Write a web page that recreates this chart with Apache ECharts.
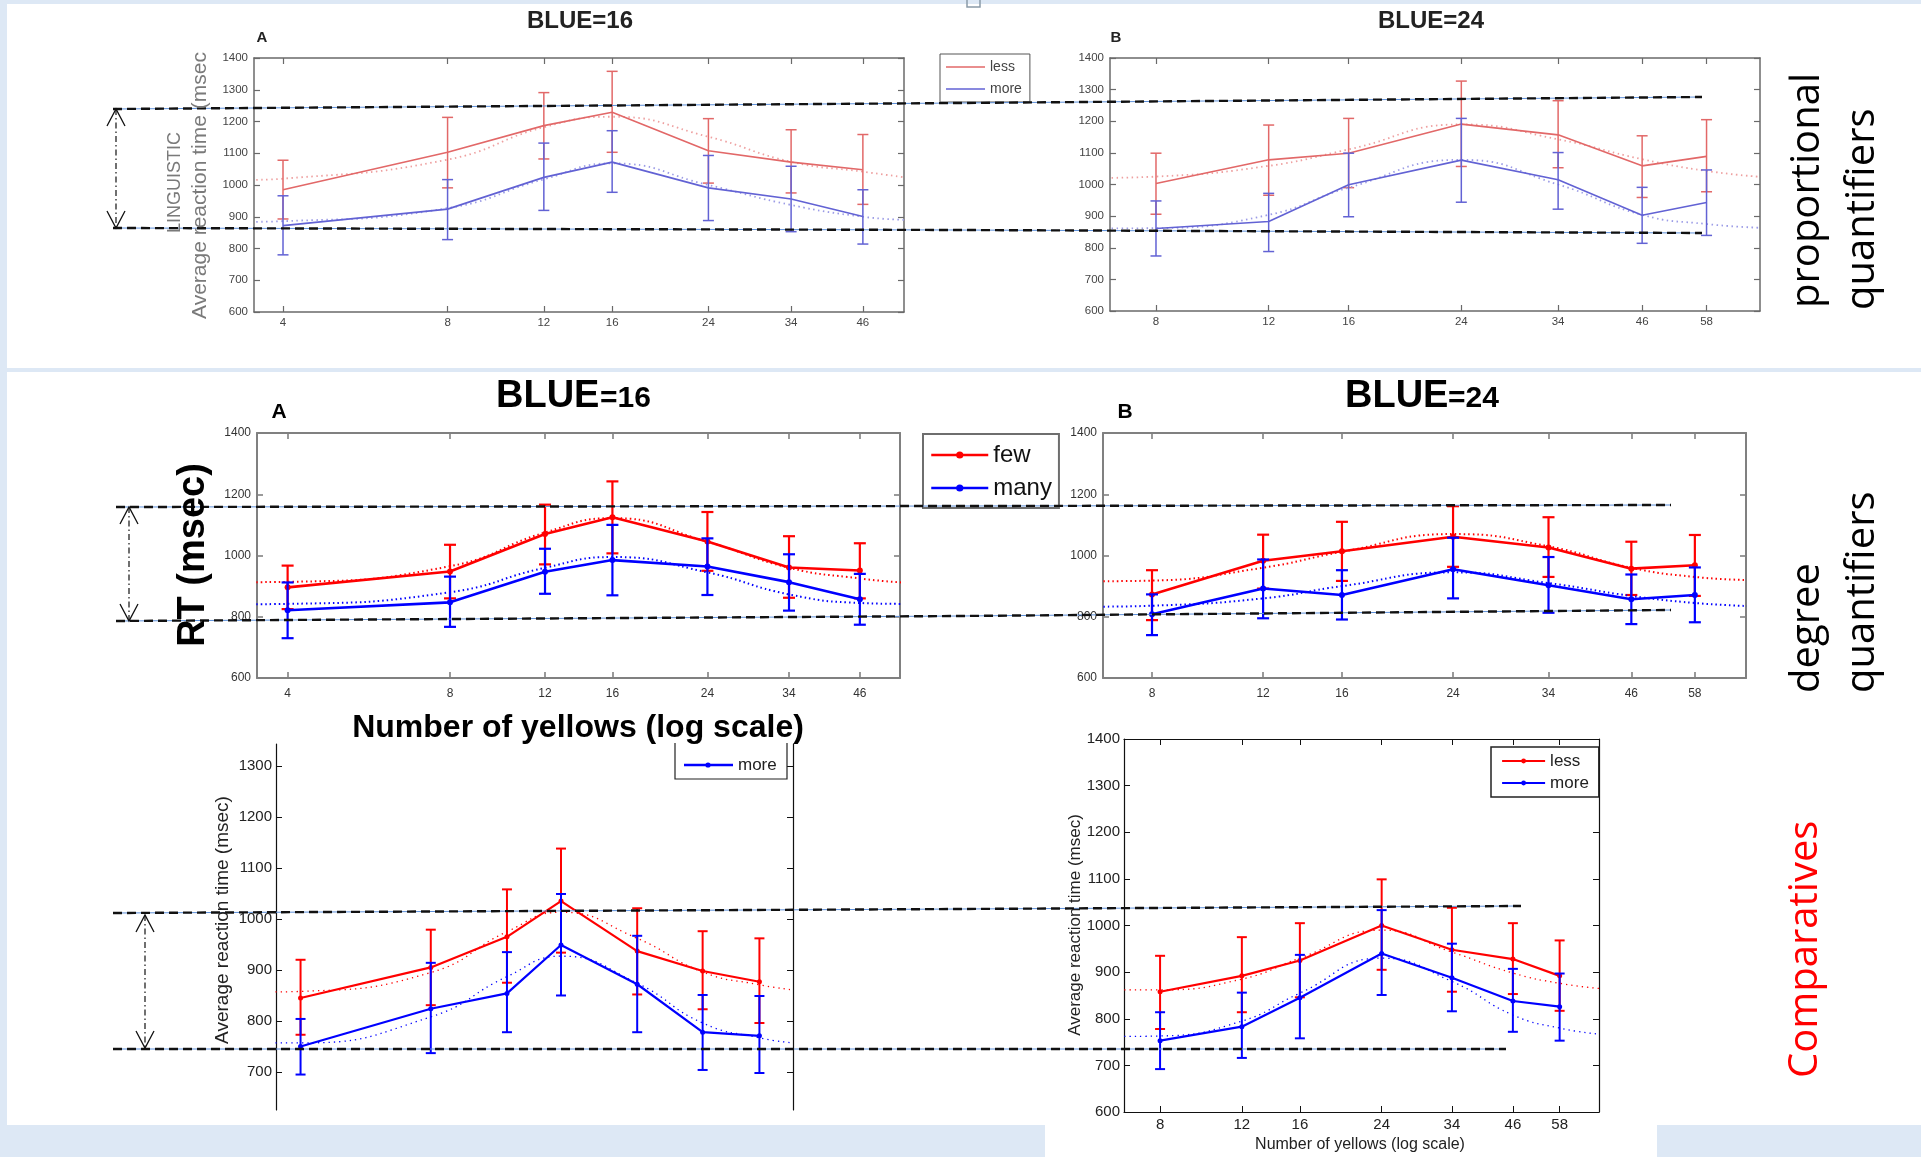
<!DOCTYPE html>
<html><head><meta charset="utf-8">
<script src="https://cdn.jsdelivr.net/npm/echarts@6/dist/echarts.min.js"></script>
<style>html,body{margin:0;padding:0;background:#dde8f5;overflow:hidden}#c{width:1921px;height:1157px}</style>
</head><body><div id="c"></div><script>
// ---------------- data ----------------
const X_BLUE16 = [4, 8, 12, 16, 24, 34, 46];
const X_BLUE24 = [8, 12, 16, 24, 34, 46, 58];
const FIT_X_BLUE16 = [3.5, 4, 8, 12, 16, 24, 34, 46, 55];
const FIT_X_BLUE24 = [6.7, 8, 12, 16, 24, 34, 46, 58, 70.5];
const Y_TICKS_COMP16 = [700, 800, 900, 1000, 1100, 1200, 1300];

// proportional quantifiers, BLUE=16
const PROP16_LESS    = [985, 1103, 1187, 1229, 1108, 1072, 1048];
const PROP16_LESS_HI = [1078, 1213, 1291, 1358, 1209, 1174, 1159];
const PROP16_LESS_LO = [893, 991, 1082, 1103, 1006, 975, 939];
const PROP16_MORE    = [872, 924, 1024, 1072, 991, 956, 901];
const PROP16_MORE_HI = [966, 1017, 1132, 1171, 1093, 1059, 985];
const PROP16_MORE_LO = [780, 828, 920, 977, 888, 853, 814];
const PROP16_LESS_FIT = [1016, 1020, 1080, 1182, 1215, 1152, 1073, 1042, 1024];
const PROP16_MORE_FIT = [884, 886, 927, 1018, 1068, 1000, 937, 900, 890];

// proportional quantifiers, BLUE=24
const PROP24_LESS    = [1003, 1078, 1099, 1191, 1157, 1059, 1089];
const PROP24_LESS_HI = [1099, 1188, 1209, 1327, 1265, 1154, 1205];
const PROP24_LESS_LO = [906, 966, 990, 1057, 1053, 959, 977];
const PROP24_MORE    = [861, 883, 999, 1077, 1015, 903, 943];
const PROP24_MORE_HI = [948, 972, 1099, 1209, 1101, 991, 1046];
const PROP24_MORE_LO = [774, 788, 898, 944, 922, 814, 839];
const PROP24_LESS_FIT = [1021, 1025, 1059, 1111, 1190, 1143, 1080, 1043, 1024];
const PROP24_MORE_FIT = [861, 862, 904, 990, 1078, 1000, 904, 875, 863];

// degree quantifiers, BLUE=16
const DEG16_FEW     = [896, 948, 1070, 1125, 1046, 961, 951];
const DEG16_FEW_HI  = [967, 1035, 1166, 1242, 1142, 1063, 1040];
const DEG16_FEW_LO  = [825, 860, 971, 1007, 950, 862, 860];
const DEG16_MANY    = [821, 847, 947, 985, 964, 913, 857];
const DEG16_MANY_HI = [912, 931, 1022, 1100, 1056, 1004, 940];
const DEG16_MANY_LO = [730, 767, 875, 870, 871, 820, 774];
const DEG16_FEW_FIT  = [913, 914, 965, 1075, 1122, 1045, 960, 925, 912];
const DEG16_MANY_FIT = [841, 842, 880, 960, 995, 945, 873, 845, 842];

// degree quantifiers, BLUE=24
const DEG24_FEW     = [873, 983, 1014, 1061, 1026, 957, 968];
const DEG24_FEW_HI  = [952, 1068, 1110, 1161, 1125, 1045, 1067];
const DEG24_FEW_LO  = [789, 892, 917, 963, 930, 871, 868];
const DEG24_MANY    = [808, 892, 871, 955, 903, 857, 871];
const DEG24_MANY_HI = [873, 987, 952, 1058, 995, 938, 961];
const DEG24_MANY_LO = [740, 795, 791, 860, 813, 776, 782];
const DEG24_FEW_FIT  = [916, 918, 960, 1012, 1070, 1030, 960, 930, 920];
const DEG24_MANY_FIT = [833, 836, 860, 900, 945, 910, 868, 845, 835];

// comparatives, BLUE=16 x-values
const COMP16_LESS    = [845, 905, 965, 1035, 937, 898, 877];
const COMP16_LESS_HI = [920, 979, 1058, 1138, 1021, 976, 962];
const COMP16_LESS_LO = [773, 831, 875, 934, 852, 823, 796];
const COMP16_MORE    = [750, 824, 854, 949, 872, 778, 771];
const COMP16_MORE_HI = [804, 914, 935, 1049, 967, 851, 849];
const COMP16_MORE_LO = [695, 737, 778, 850, 778, 704, 698];
const COMP16_LESS_FIT = [857, 858, 895, 975, 1013, 962, 896, 871, 861];
const COMP16_MORE_FIT = [757, 757, 808, 887, 927, 874, 796, 767, 757];

// comparatives, BLUE=24 x-values
const COMP24_LESS    = [858, 892, 925, 1000, 948, 928, 892];
const COMP24_LESS_HI = [935, 975, 1005, 1099, 1038, 1005, 968];
const COMP24_LESS_LO = [778, 814, 846, 905, 858, 853, 817];
const COMP24_MORE    = [753, 783, 845, 940, 888, 838, 826];
const COMP24_MORE_HI = [814, 856, 937, 1033, 961, 907, 897];
const COMP24_MORE_LO = [692, 716, 758, 851, 816, 772, 753];
const COMP24_LESS_FIT = [862, 862, 885, 930, 990, 943, 898, 876, 865];
const COMP24_MORE_FIT = [762, 763, 795, 855, 930, 880, 808, 780, 767];

// ---------------- styles / layout ----------------
const SANS = "'Liberation Sans', Arial, Helvetica, sans-serif";
const OPEN = "'Open Sans', 'Noto Sans', sans-serif";
const RED = '#ff0000', BLUE = '#0000ff';
const T_RED = '#e26868', T_BLUE = '#6262d4', T_RED_FIT = '#eea0a0', T_BLUE_FIT = '#9c9ce6';

const TOP = {axisColor:'#6a6a6a', axisW:1.5, tick:6, fontSize:11.5, labelColor:'#444', xMargin:5, yMargin:6,
  lineW:1.6, errW:1.5, cap:5.5, symbol:'none', symSize:0, fitW:1.8, fitDash:[1.5, 3.5]};
const MID = {axisColor:'#808080', axisW:2, tick:6, fontSize:12, labelColor:'#333', xMargin:10, yMargin:6,
  lineW:2.6, errW:2.2, cap:6, symbol:'circle', symSize:6, fitW:2, fitDash:[1.5, 3]};
const BOT = {axisColor:'#111', axisW:1.2, tick:6, fontSize:15, labelColor:'#222', xMargin:5, yMargin:4,
  lineW:2.2, errW:2, cap:5, symbol:'circle', symSize:5, fitW:1.3, fitDash:[1.3, 4]};

const PANELS = [
  {grid:{left:254, top:58, width:650, height:254}, xmin:3.54, xmax:54.7, x:X_BLUE16, fitX:FIT_X_BLUE16,
   ymin:600, ymax:1400, yint:100, st:TOP, groups:[
    {name:'less', mean:PROP16_LESS, lo:PROP16_LESS_LO, hi:PROP16_LESS_HI, fit:PROP16_LESS_FIT, color:T_RED, fitColor:T_RED_FIT},
    {name:'more', mean:PROP16_MORE, lo:PROP16_MORE_LO, hi:PROP16_MORE_HI, fit:PROP16_MORE_FIT, color:T_BLUE, fitColor:T_BLUE_FIT}]},
  {grid:{left:1110, top:58, width:650, height:253}, xmin:6.78, xmax:70.3, x:X_BLUE24, fitX:FIT_X_BLUE24,
   ymin:600, ymax:1400, yint:100, st:TOP, groups:[
    {name:'less', mean:PROP24_LESS, lo:PROP24_LESS_LO, hi:PROP24_LESS_HI, fit:PROP24_LESS_FIT, color:T_RED, fitColor:T_RED_FIT},
    {name:'more', mean:PROP24_MORE, lo:PROP24_MORE_LO, hi:PROP24_MORE_HI, fit:PROP24_MORE_FIT, color:T_BLUE, fitColor:T_BLUE_FIT}]},
  {grid:{left:257, top:433, width:643, height:245}, xmin:3.51, xmax:54.6, x:X_BLUE16, fitX:FIT_X_BLUE16,
   ymin:600, ymax:1400, yint:200, st:MID, groups:[
    {name:'few', mean:DEG16_FEW, lo:DEG16_FEW_LO, hi:DEG16_FEW_HI, fit:DEG16_FEW_FIT, color:RED, fitColor:RED},
    {name:'many', mean:DEG16_MANY, lo:DEG16_MANY_LO, hi:DEG16_MANY_HI, fit:DEG16_MANY_FIT, color:BLUE, fitColor:BLUE}]},
  {grid:{left:1103, top:433, width:643, height:245}, xmin:6.69, xmax:69.9, x:X_BLUE24, fitX:FIT_X_BLUE24,
   ymin:600, ymax:1400, yint:200, st:MID, groups:[
    {name:'few', mean:DEG24_FEW, lo:DEG24_FEW_LO, hi:DEG24_FEW_HI, fit:DEG24_FEW_FIT, color:RED, fitColor:RED},
    {name:'many', mean:DEG24_MANY, lo:DEG24_MANY_LO, hi:DEG24_MANY_HI, fit:DEG24_MANY_FIT, color:BLUE, fitColor:BLUE}]},
  {grid:{left:276, top:744, width:517, height:366}, xmin:3.51, xmax:55, x:X_BLUE16, fitX:FIT_X_BLUE16,
   ymin:625.5, ymax:1343, yCustom:Y_TICKS_COMP16, noX:true, st:BOT, groups:[
    {name:'less', mean:COMP16_LESS, lo:COMP16_LESS_LO, hi:COMP16_LESS_HI, fit:COMP16_LESS_FIT, color:RED, fitColor:RED},
    {name:'more', mean:COMP16_MORE, lo:COMP16_MORE_LO, hi:COMP16_MORE_HI, fit:COMP16_MORE_FIT, color:BLUE, fitColor:BLUE}]},
  {grid:{left:1124, top:739, width:475, height:373}, xmin:6.69, xmax:70.5, x:X_BLUE24, fitX:FIT_X_BLUE24,
   ymin:600, ymax:1400, yint:100, st:BOT, groups:[
    {name:'less', mean:COMP24_LESS, lo:COMP24_LESS_LO, hi:COMP24_LESS_HI, fit:COMP24_LESS_FIT, color:RED, fitColor:RED},
    {name:'more', mean:COMP24_MORE, lo:COMP24_MORE_LO, hi:COMP24_MORE_HI, fit:COMP24_MORE_FIT, color:BLUE, fitColor:BLUE}]}
];

function zip2(a, b) { return a.map((v, i) => [v, b[i]]); }
function zip3(a, b, c) { return a.map((v, i) => [v, b[i], c[i]]); }
function errorBar(color, width, cap) {
  return function (params, api) {
    const x = api.value(0);
    const a = api.coord([x, api.value(2)]);
    const b = api.coord([x, api.value(1)]);
    const st = {stroke: color, lineWidth: width, fill: null};
    return {type: 'group', children: [
      {type: 'line', shape: {x1: a[0], y1: a[1], x2: b[0], y2: b[1]}, style: st},
      {type: 'line', shape: {x1: a[0] - cap, y1: a[1], x2: a[0] + cap, y2: a[1]}, style: st},
      {type: 'line', shape: {x1: b[0] - cap, y1: b[1], x2: b[0] + cap, y2: b[1]}, style: st}
    ]};
  };
}

const grid = [], xAxis = [], yAxis = [], series = [];
PANELS.forEach((p, i) => {
  const s = p.st;
  grid.push(Object.assign({}, p.grid));
  const lineSt = {color: s.axisColor, width: s.axisW};
  const tickSt = {color: s.axisColor, width: Math.max(1, s.axisW * 0.8)};
  const fmtNum = v => String(Math.round(v));
  const xBase = {type: 'log', gridIndex: i, min: p.xmin, max: p.xmax, splitLine: {show: false},
    minorTick: {show: false}, minorSplitLine: {show: false}};
  xAxis.push(Object.assign({}, xBase, {position: 'bottom', show: !p.noX,
    axisLine: {show: true, onZero: false, lineStyle: lineSt},
    axisTick: {show: true, inside: true, length: s.tick, customValues: p.x, lineStyle: tickSt},
    axisLabel: {show: true, customValues: p.x, margin: s.xMargin, fontSize: s.fontSize, fontFamily: SANS,
      color: s.labelColor, formatter: fmtNum}}));
  xAxis.push(Object.assign({}, xBase, {position: 'top', show: !p.noX,
    axisLine: {show: true, onZero: false, lineStyle: lineSt},
    axisTick: {show: true, inside: true, length: s.tick, customValues: p.x, lineStyle: tickSt},
    axisLabel: {show: false}}));
  const yBase = {type: 'value', gridIndex: i, min: p.ymin, max: p.ymax, splitLine: {show: false}};
  if (p.yint) yBase.interval = p.yint;
  const yTick = {show: true, inside: true, length: s.tick, lineStyle: tickSt};
  if (p.yCustom) yTick.customValues = p.yCustom;
  const yLab = {show: true, margin: s.yMargin, fontSize: s.fontSize, fontFamily: SANS, color: s.labelColor, formatter: fmtNum};
  if (p.yCustom) yLab.customValues = p.yCustom;
  yAxis.push(Object.assign({}, yBase, {position: 'left',
    axisLine: {show: true, onZero: false, lineStyle: lineSt}, axisTick: yTick, axisLabel: yLab}));
  yAxis.push(Object.assign({}, yBase, {position: 'right',
    axisLine: {show: true, onZero: false, lineStyle: lineSt}, axisTick: yTick, axisLabel: {show: false}}));

  p.groups.forEach((g, k) => {
    series.push({type: 'line', xAxisIndex: 2 * i, yAxisIndex: 2 * i, data: zip2(p.fitX, g.fit),
      smooth: true, symbol: 'none', silent: true, z: 2 + k * 3,
      lineStyle: {color: g.fitColor, width: s.fitW, type: s.fitDash}});
    series.push({type: 'custom', xAxisIndex: 2 * i, yAxisIndex: 2 * i, data: zip3(p.x, g.lo, g.hi),
      encode: {x: 0, y: [1, 2]}, renderItem: errorBar(g.color, s.errW, s.cap), silent: true, z: 3 + k * 3});
    series.push({type: 'line', name: g.name, xAxisIndex: 2 * i, yAxisIndex: 2 * i, data: zip2(p.x, g.mean),
      symbol: s.symbol, symbolSize: s.symSize, silent: true, z: 4 + k * 3,
      lineStyle: {color: g.color, width: s.lineW}, itemStyle: {color: g.color}});
  });
});

// ---------------- annotation graphics ----------------
const G = [];
function rect(x, y, w, h, fill) { G.push({type: 'rect', z: -10, shape: {x, y, width: w, height: h}, style: {fill}, silent: true}); }
function text(t, x, y, o) {
  G.push({type: 'text', z: 60, x, y, rotation: o.rot || 0, silent: true, style: {
    text: t, fontSize: o.size, fontFamily: o.family || SANS, fontWeight: o.weight || 'normal',
    fill: o.color || '#000', align: o.align || 'center', textAlign: o.align || 'center',
    verticalAlign: 'middle', textVerticalAlign: 'middle'}});
}
function dashLine(pts) {
  G.push({type: 'polyline', z: 50, silent: true, shape: {points: pts}, style: {stroke: '#5d8fd8', lineWidth: 1, fill: null}});
  G.push({type: 'polyline', z: 51, silent: true, shape: {points: pts}, style: {stroke: '#111', lineWidth: 2.4, lineDash: [9, 5], fill: null}});
}
function arrow(x, y1, y2) {
  G.push({type: 'line', z: 50, silent: true, shape: {x1: x, y1: y1, x2: x, y2: y2},
    style: {stroke: '#111', lineWidth: 1.2, lineDash: [6, 3, 1.5, 3]}});
  G.push({type: 'polyline', z: 50, silent: true, shape: {points: [[x - 9, y1 + 17], [x, y1], [x + 9, y1 + 17]]},
    style: {stroke: '#111', lineWidth: 1.3, fill: null}});
  G.push({type: 'polyline', z: 50, silent: true, shape: {points: [[x - 9, y2 - 17], [x, y2], [x + 9, y2 - 17]]},
    style: {stroke: '#111', lineWidth: 1.3, fill: null}});
}

// panels
rect(7, 4, 1914, 364, '#ffffff');
rect(7, 372, 1914, 753, '#ffffff');
rect(1045, 1125, 612, 32, '#ffffff');
G.push({type: 'polyline', z: 5, silent: true, shape: {points: [[967, 0], [967, 7], [980, 7], [980, 0]]},
  style: {stroke: '#8a9aa8', lineWidth: 1.5, fill: null}});

// top panel text
text('BLUE=16', 580, 21.5, {size: 24, weight: 'bold', color: '#222'});
text('BLUE=24', 1431, 21.5, {size: 24, weight: 'bold', color: '#222'});
text('A', 262, 38, {size: 15, weight: 'bold', color: '#222'});
text('B', 1116, 38, {size: 15, weight: 'bold', color: '#222'});
text('Average reaction time (msec', 200, 319, {size: 21, color: '#7a7a7a', rot: Math.PI / 2, align: 'left'});
text('LINGUISTIC', 175, 233, {size: 18, color: '#7a7a7a', rot: Math.PI / 2, align: 'left'});
text('proportional', 1808, 308, {size: 40, family: OPEN, rot: Math.PI / 2, align: 'left'});
text('quantifiers', 1863, 310, {size: 40, family: OPEN, rot: Math.PI / 2, align: 'left'});

// middle panel text
text('BLUE', 496, 396.5, {size: 38, weight: 'bold', align: 'left'});
text('=16', 600, 399, {size: 30, weight: 'bold', align: 'left'});
text('BLUE', 1345, 396.5, {size: 38, weight: 'bold', align: 'left'});
text('=24', 1448, 399, {size: 30, weight: 'bold', align: 'left'});
text('A', 279, 412, {size: 21, weight: 'bold'});
text('B', 1125, 412, {size: 21, weight: 'bold'});
text('RT (msec)', 194, 555, {size: 38, weight: 'bold', rot: Math.PI / 2});
text('Number of yellows (log scale)', 578, 728, {size: 32, weight: 'bold'});
text('degree', 1808, 693, {size: 40, family: OPEN, rot: Math.PI / 2, align: 'left'});
text('quantifiers', 1863, 693, {size: 40, family: OPEN, rot: Math.PI / 2, align: 'left'});

// bottom panel text
text('Average reaction time (msec)', 223, 920, {size: 19, color: '#222', rot: Math.PI / 2});
text('Average reaction time (msec)', 1075, 925, {size: 17, color: '#222', rot: Math.PI / 2});
text('Number of yellows (log scale)', 1360, 1145, {size: 16, color: '#222'});
text('Comparatives', 1806, 1078, {size: 40, family: OPEN, color: '#ff0000', rot: Math.PI / 2, align: 'left'});

// legend of the partly hidden comparatives (BLUE=16) plot
G.push({type: 'polyline', z: 20, silent: true, shape: {points: [[675, 743], [675, 779], [787, 779], [787, 743]]},
  style: {stroke: '#222', lineWidth: 1.2, fill: '#fff'}});
G.push({type: 'line', z: 21, silent: true, shape: {x1: 684, y1: 765, x2: 733, y2: 765}, style: {stroke: BLUE, lineWidth: 2.5}});
G.push({type: 'circle', z: 21, silent: true, shape: {cx: 708, cy: 765, r: 2.6}, style: {fill: BLUE}});
text('more', 738, 765, {size: 17, color: '#222', align: 'left'});

// dashed guide lines and double arrows
dashLine([[113, 109], [960, 103], [1702, 97]]);
dashLine([[113, 228], [960, 230], [1702, 233]]);
arrow(116, 109, 228);
dashLine([[116, 507], [960, 506], [1671, 505]]);
dashLine([[116, 621], [960, 616], [1671, 610]]);
arrow(129, 507, 621);
dashLine([[113, 913], [960, 909], [1521, 906]]);
dashLine([[113, 1049], [960, 1049], [1506, 1049]]);
arrow(145, 915, 1048);

const legend = [
  {left: 940, top: 54, orient: 'vertical', selectedMode: false, itemWidth: 39, itemHeight: 1.6, itemGap: 8,
   padding: [6, 8, 6, 6], backgroundColor: '#fff', borderColor: '#555', borderWidth: 1, borderRadius: 0,
   textStyle: {fontSize: 14, lineHeight: 14, color: '#444', fontFamily: SANS},
   data: [{name: 'less', icon: 'rect', itemStyle: {color: T_RED}}, {name: 'more', icon: 'rect', itemStyle: {color: T_BLUE}}]},
  {left: 923, top: 434, orient: 'vertical', selectedMode: false, itemWidth: 57, itemHeight: 9, itemGap: 9,
   padding: [9, 7, 8, 7], backgroundColor: '#fff', borderColor: '#6e6e6e', borderWidth: 2, borderRadius: 0,
   textStyle: {fontSize: 24, lineHeight: 24, color: '#111', fontFamily: SANS},
   data: [{name: 'few', itemStyle: {color: RED}, lineStyle: {color: RED, width: 2.5}},
          {name: 'many', itemStyle: {color: BLUE}, lineStyle: {color: BLUE, width: 2.5}}]},
  {left: 1491, top: 747, orient: 'vertical', selectedMode: false, itemWidth: 43, itemHeight: 6, itemGap: 5,
   padding: [5.5, 10, 5.5, 10], backgroundColor: '#fff', borderColor: '#222', borderWidth: 1.5, borderRadius: 0,
   textStyle: {fontSize: 17, lineHeight: 17, color: '#222', fontFamily: SANS},
   data: [{name: 'less', itemStyle: {color: RED}, lineStyle: {color: RED, width: 2.2}},
          {name: 'more', itemStyle: {color: BLUE}, lineStyle: {color: BLUE, width: 2.2}}]}
];

const chart = echarts.init(document.getElementById('c'), null, {renderer: 'canvas', width: 1921, height: 1157});
chart.setOption({
  backgroundColor: '#dde8f5',
  animation: false,
  grid, xAxis, yAxis, series, legend,
  graphic: {elements: G}
});
</script></body></html>
